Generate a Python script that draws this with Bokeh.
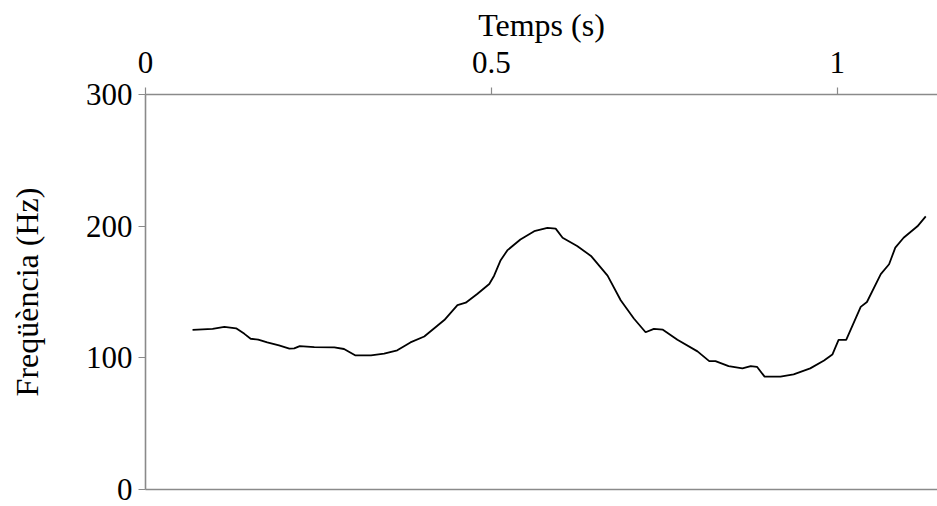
from bokeh.plotting import figure
from bokeh.models import Range1d, LinearAxis, FixedTicker
from bokeh.embed import file_html
from bokeh.resources import INLINE

# Data
time_s = [0.068, 0.097, 0.114, 0.131, 0.143, 0.152, 0.163, 0.176, 0.193, 0.208,
          0.215, 0.223, 0.244, 0.273, 0.287, 0.303, 0.326, 0.345, 0.364, 0.383,
          0.403, 0.432, 0.451, 0.463, 0.480, 0.497, 0.504, 0.513, 0.523, 0.542,
          0.562, 0.581, 0.593, 0.603, 0.624, 0.644, 0.668, 0.687, 0.706, 0.723,
          0.735, 0.748, 0.769, 0.798, 0.815, 0.824, 0.843, 0.863, 0.875, 0.884,
          0.895, 0.918, 0.937, 0.961, 0.981, 0.993, 1.002, 1.013, 1.034, 1.043,
          1.063, 1.075, 1.084, 1.096, 1.116, 1.128]
freq_hz = [121.2, 122.0, 123.5, 122.4, 118.2, 114.5, 113.9, 111.7, 109.4, 107.0,
           107.2, 108.9, 108.2, 107.9, 106.7, 101.9, 101.9, 103.2, 105.7, 111.7,
           116.2, 128.7, 140.0, 141.9, 148.7, 156.1, 162.4, 173.7, 181.6, 189.9,
           196.2, 198.7, 198.1, 191.2, 184.9, 177.4, 162.4, 143.7, 129.9, 119.4,
           122.0, 121.4, 113.7, 104.9, 97.5, 97.5, 93.7, 92.0, 93.7, 93.2,
           85.7, 85.7, 87.5, 92.0, 98.0, 102.5, 113.7, 113.7, 138.7, 142.4,
           163.6, 171.1, 183.7, 191.2, 199.9, 207.4]

x_ticks = [0, 0.5, 1]
x_tick_labels = ["0", "0.5", "1"]
y_ticks = [0, 100, 200, 300]
y_tick_labels = ["0", "100", "200", "300"]

FONT = "Liberation Serif"
AXIS_COLOR = "#8a8a8a"

p = figure(width=937, height=506, output_backend="svg", toolbar_location=None,
           x_axis_location="above",
           x_range=Range1d(0, 1.145), y_range=Range1d(0, 300),
           min_border_left=145, min_border_right=0, min_border_top=94,
           min_border_bottom=17)
p.outline_line_color = None
p.grid.visible = False
p.background_fill_color = "white"
p.border_fill_color = "white"

p.line(time_s, freq_hz, line_color="black", line_width=1.8)

xa = p.xaxis[0]
xa.ticker = FixedTicker(ticks=x_ticks)
xa.major_label_overrides = {t: l for t, l in zip(x_ticks, x_tick_labels)}
xa.axis_label = "Temps (s)"

ya = p.yaxis[0]
ya.ticker = FixedTicker(ticks=y_ticks)
ya.major_label_overrides = {t: l for t, l in zip(y_ticks, y_tick_labels)}
ya.axis_label = "Freqüència (Hz)"

for ax in (xa, ya):
    ax.axis_line_color = AXIS_COLOR
    ax.axis_line_width = 1.6
    ax.major_tick_line_color = AXIS_COLOR
    ax.major_tick_line_width = 1.2
    ax.major_tick_in = 0
    ax.major_tick_out = 7
    ax.minor_tick_line_color = None
    ax.major_label_text_font = FONT
    ax.major_label_text_font_size = "31px"
    ax.major_label_text_color = "black"
    ax.axis_label_text_font = FONT
    ax.axis_label_text_font_size = "32px"
    ax.axis_label_text_font_style = "normal"
    ax.axis_label_text_color = "black"

xa.major_label_standoff = 15
xa.axis_label_standoff = 6
ya.major_label_standoff = 6
ya.axis_label_standoff = 38

bottom = LinearAxis(ticker=FixedTicker(ticks=[]), axis_line_color=AXIS_COLOR,
                    axis_line_width=1.6, major_tick_line_color=None,
                    minor_tick_line_color=None, major_label_text_font_size="0px")
p.add_layout(bottom, "below")

open("out.html", "w").write(file_html(p, INLINE))
